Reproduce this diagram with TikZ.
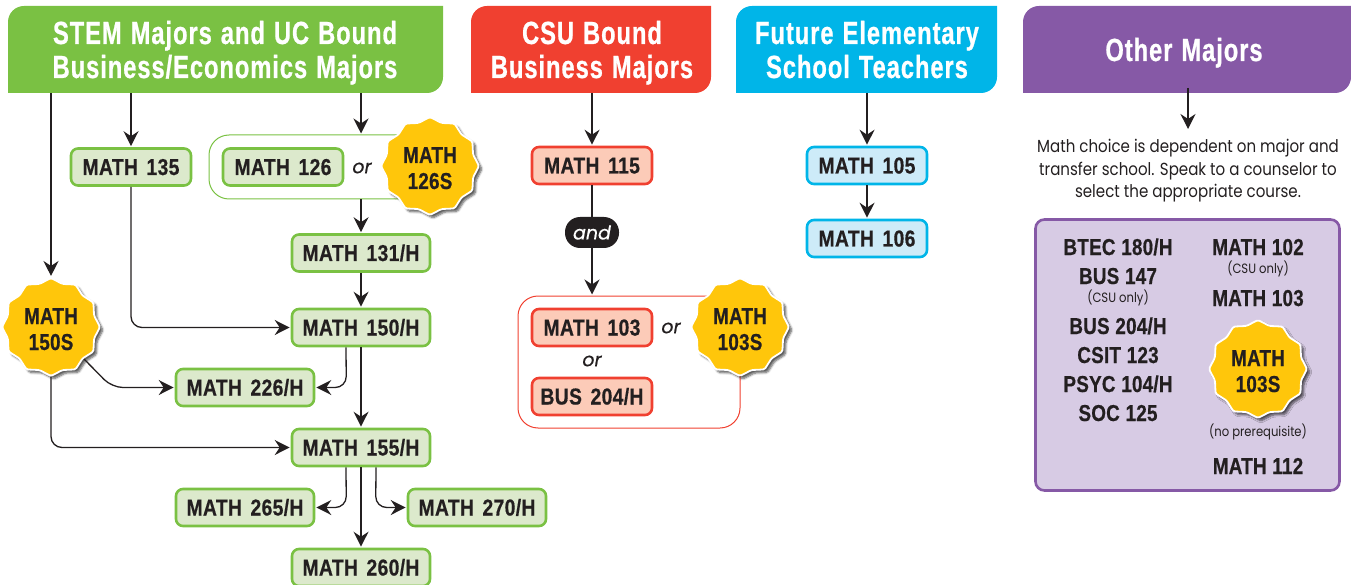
\documentclass[tikz,border=0pt]{standalone}
\usepackage{fontspec}
\setmainfont{Liberation Sans}
\newfontfamily\boxfont[FakeStretch=0.84,LetterSpace=1.5,WordSpace=1.5,FakeBold=0.5]{Liberation Sans}
\newfontfamily\listfont[FakeStretch=0.82,LetterSpace=1,WordSpace=1.05,FakeBold=0.5]{Liberation Sans}
\newfontfamily\headfont[FakeStretch=0.74,LetterSpace=3,WordSpace=1.2,FakeBold=0.7]{Liberation Sans}
\newfontfamily\orfont[FakeBold=0.4]{Poppins}
\newfontfamily\smallfont[FakeStretch=0.86]{Poppins}
\usetikzlibrary{arrows.meta,shapes.geometric,shadows.blur,calc}
\definecolor{ink}{HTML}{231F20}
\definecolor{gline}{HTML}{7AC143}
\definecolor{gfill}{HTML}{DCE9CC}
\definecolor{rline}{HTML}{F04030}
\definecolor{rfill}{HTML}{FCCBB8}
\definecolor{bline}{HTML}{00B5E8}
\definecolor{bfill}{HTML}{CDEBF8}
\definecolor{pline}{HTML}{8659A6}
\definecolor{pfill}{HTML}{D7CBE4}
\definecolor{gold}{HTML}{FFC60B}
\newcommand\headln[1]{\rule{0pt}{22pt}\smash{#1}}
\newcommand\starln[1]{\rule{0pt}{16pt}\smash{#1}}
\tikzset{
 x=1pt,y=-1pt,
 link/.style={draw=ink,line width=1.3pt,shorten >=1pt,-{Stealth[length=15pt,width=15pt,inset=5pt]},rounded corners=11pt},
 course/.style={rounded corners=7pt,line width=2.6pt,minimum height=37pt,inner sep=0pt,text height=16pt,text depth=0pt,
   text=ink,font=\fontsize{23}{24}\selectfont\boxfont\bfseries},
 gc/.style={course,draw=gline,fill=gfill,minimum width=138pt},
 gs/.style={course,draw=gline,fill=gfill,minimum width=120pt},
 rc/.style={course,draw=rline,fill=rfill,minimum width=120pt},
 bc/.style={course,draw=bline,fill=bfill,minimum width=120pt},
 head/.style={inner sep=0pt,text=white,align=center,font=\fontsize{32}{34}\selectfont\headfont\bfseries},
 burst/.style={star,star points=12,star point ratio=1.1,minimum size=98pt,inner sep=0pt,rounded corners=1.5pt,
   fill=gold,draw=white,line width=1.8pt,blur shadow={shadow xshift=3pt,shadow yshift=-3pt,shadow blur steps=6,shadow opacity=65}},
 bursttext/.style={text=ink,inner sep=0pt,yshift=-2pt,align=center,font=\fontsize{23}{26}\selectfont\listfont\bfseries},
 orword/.style={text=ink,font=\fontsize{19}{20}\selectfont\orfont\itshape},
 plain/.style={text=ink,inner sep=0pt,text height=16pt,text depth=0pt,font=\fontsize{23}{24}\selectfont\listfont\bfseries},
 tiny/.style={text=ink,font=\fontsize{13.5}{15}\selectfont\smallfont},
 note/.style={text=ink,align=center,font=\fontsize{17.5}{22.5}\selectfont\smallfont},
}
\begin{document}
\begin{tikzpicture}
\useasboundingbox (0,0) rectangle (1351,585);
% headers
\fill[gline] (8,93) [rounded corners=16pt] -- (8,6) [sharp corners] -- (443,6) [rounded corners=16pt] -- (443,93) [sharp corners] -- cycle;
\fill[rline] (471,93) [rounded corners=16pt] -- (471,6) [sharp corners] -- (711,6) [rounded corners=16pt] -- (711,93) [sharp corners] -- cycle;
\fill[bline] (736,93) [rounded corners=16pt] -- (736,6) [sharp corners] -- (997,6) [rounded corners=16pt] -- (997,93) [sharp corners] -- cycle;
\fill[pline] (1023,93) [rounded corners=16pt] -- (1023,6) [sharp corners] -- (1351,6) [rounded corners=16pt] -- (1351,93) [sharp corners] -- cycle;
\coordinate (hg) at (225,93); \coordinate (hr) at (592,93); \coordinate (hb) at (867,93); \coordinate (hp) at (1188,88);
\node[head] (tg) at (225,50) {\headln{STEM Majors and UC Bound}\\\headln{Business/Economics Majors}};
\node[head] (tr) at (592,50) {\headln{CSU Bound}\\\headln{Business Majors}};
\node[head] (tb) at (867,50) {\headln{Future Elementary}\\\headln{School Teachers}};
\node[head] (tp) at (1184,50) {\headln{Other Majors}};
% green groups
\node[draw=gline,line width=1pt,rounded corners=20pt,minimum width=221pt,minimum height=64pt,inner sep=0pt] (g126) at (319.5,167) {};
\node[gs] (m135) at (131,167) {MATH 135};
\node[gs] (m126) at (283,167) {MATH 126};
\node[orword] (or1) at (362,168) {or};
\node[burst,label={[bursttext]center:\starln{MATH}\\\starln{126S}}] (s126) at (430,166) {};
\node[gc] (m131) at (361,253) {MATH 131/H};
\node[gc] (m150) at (361,327.5) {MATH 150/H};
\node[gc] (m226) at (245,387.5) {MATH 226/H};
\node[gc] (m155) at (361,447.5) {MATH 155/H};
\node[gc] (m265) at (245,507.5) {MATH 265/H};
\node[gc] (m270) at (477,507.5) {MATH 270/H};
\node[gc] (m260) at (361,567.5) {MATH 260/H};
\node[burst,label={[bursttext]center:\starln{MATH}\\\starln{150S}}] (s150) at (51,327) {};
% red column
\node[draw=rline,line width=1pt,rounded corners=20pt,minimum width=222pt,minimum height=132pt,inner sep=0pt] (g103) at (629,362) {};
\node[rc] (m115) at (592,165.5) {MATH 115};
\node[fill=ink,text=white,rounded corners=15pt,minimum width=54pt,minimum height=31pt,inner sep=0pt,font=\fontsize{19}{20}\selectfont\orfont\itshape] (and) at (592,232.5) {and};
\node[rc] (m103) at (592,327.5) {MATH 103};
\node[orword] (or2) at (592,361) {or};
\node[rc] (b204) at (592,396.5) {BUS 204/H};
\node[orword] (or3) at (671,328) {or};
\node[burst,label={[bursttext]center:\starln{MATH}\\\starln{103S}}] (s103) at (740,327) {};
% blue column
\node[bc] (m105) at (867,165.5) {MATH 105};
\node[bc] (m106) at (867,238.5) {MATH 106};
% purple column
\node[note] (ntxt) at (1188,171) {Math choice is dependent on major and\\transfer school. Speak to a counselor to\\select the appropriate course.};
\node[draw=pline,fill=pfill,line width=2.6pt,rounded corners=9pt,minimum width=304pt,minimum height=271pt,inner sep=0pt] (pbox) at (1187.5,355) {};
\node[plain] (l1) at (1118,247) {BTEC 180/H};
\node[plain] (l2) at (1118,276) {BUS 147};
\node[tiny] (l3) at (1118,298) {(CSU only)};
\node[plain] (l4) at (1118,326) {BUS 204/H};
\node[plain] (l5) at (1118,355) {CSIT 123};
\node[plain] (l6) at (1118,384) {PSYC 104/H};
\node[plain] (l7) at (1118,413) {SOC 125};
\node[plain] (r1) at (1258,247) {MATH 102};
\node[tiny] (r2) at (1258,269) {(CSU only)};
\node[plain] (r3) at (1258,298) {MATH 103};
\node[burst,label={[bursttext]center:\starln{MATH}\\\starln{103S}}] (s103b) at (1258,369) {};
\node[tiny] (r4) at (1258,432) {(no prerequisite)};
\node[plain] (r5) at (1258,466) {MATH 112};
% connectors
\draw[link] (s150 |- hg) -- (s150.north);
\draw[link] (m135 |- hg) -- (m135.north);
\draw[link] (m131 |- hg) -- (m131 |- g126.north);
\draw[link] (m131 |- g126.south) -- (m131.north);
\draw[link] (m131.south) -- (m150.north);
\draw[link] (m135.south) -- (m135 |- m150) -- (m150.west);
\draw[link] ($(m150.south)+(-15,0)$) -- ($(m226.east)+(31,0)$) -- (m226.east);
\draw[link] (m150.south) -- (m155.north);
\draw[link] (84,359) -- (112,387.5) -- (m226.west);
\draw[link] (s150.south) -- (s150 |- m155) -- (m155.west);
\draw[link] ($(m155.south)+(-15,0)$) -- ($(m265.east)+(31,0)$) -- (m265.east);
\draw[link] ($(m155.south)+(15,0)$) -- ($(m270.west)+(-31,0)$) -- (m270.west);
\draw[link] (m155.south) -- (m260.north);
\draw[link] (m115 |- hr) -- (m115.north);
\draw[draw=ink,line width=1.3pt] (m115.south) -- (and.north);
\draw[link] (and.south) -- (and |- g103.north);
\draw[link] (m105 |- hb) -- (m105.north);
\draw[link] (m105.south) -- (m106.north);
\draw[link] (hp) -- (1188,130);
\end{tikzpicture}
\end{document}
